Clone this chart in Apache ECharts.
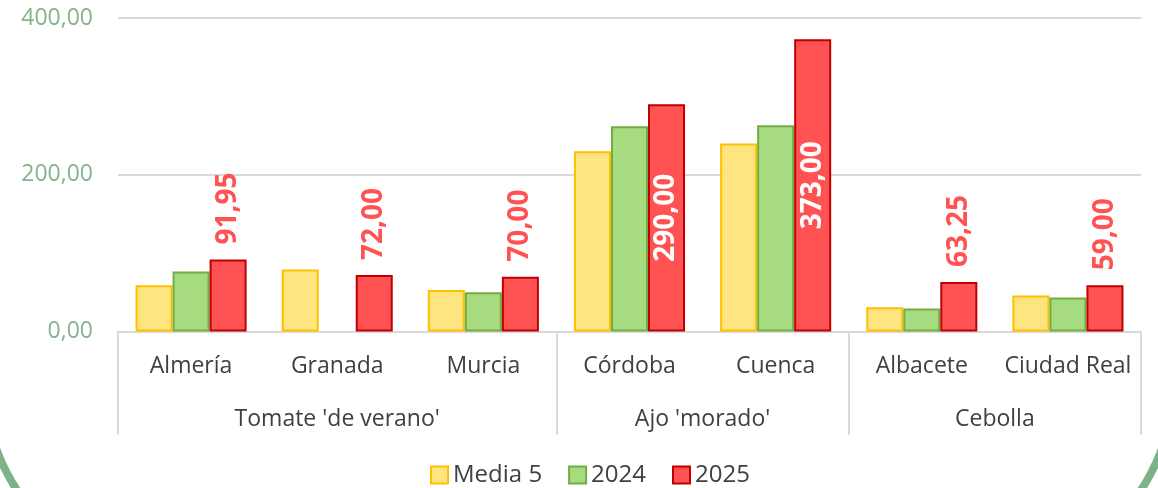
<!DOCTYPE html>
<html>
<head>
  <meta charset="UTF-8">
  <title>Precios</title>
  <script src="https://cdn.jsdelivr.net/npm/echarts@6.0.0/dist/echarts.min.js"></script>
  <style>
    html, body { margin: 0; padding: 0; background: #fff; }
    #chart { width: 1158px; height: 488px; }
  </style>
</head>
<body>
<div id="chart"></div>
<script type="text/javascript">
  // datos
  var provincias = ['Almería', 'Granada', 'Murcia', 'Córdoba', 'Cuenca', 'Albacete', 'Ciudad Real'];
  var grupos = ["Tomate 'de verano'", "Ajo 'morado'", 'Cebolla'];
  var grupoCentro = [1.5, 4, 6];
  var grupoLimites = [0, 3, 5, 7];
  var media5 = [59, 79, 53, 230, 240, 31, 46];
  var v2024 = [76.5, null, 50, 262, 263, 29.5, 43.5];
  var v2025 = [91.95, 72.00, 70.00, 290.00, 373.00, 63.25, 59.00];
  var yTicks = [0, 200, 400];

  var FONT = "'Open Sans', 'Noto Sans', sans-serif";

  function fmt(v) {
    return v.toFixed(2).replace('.', ',');
  }

  // las barras altas llevan la etiqueta dentro, en blanco
  var datos2025 = v2025.map(function (v) {
    if (v > 200) {
      return { value: v, label: { position: 'inside', align: 'center', color: '#ffffff' } };
    }
    return v;
  });

  var chart = echarts.init(document.getElementById('chart'));
  chart.setOption({
    animation: false,
    textStyle: { fontFamily: FONT },
    grid: { left: 118, right: 17, top: 18, bottom: 156.5, containLabel: false },
    graphic: [{
      type: 'rect',
      silent: true,
      z: -10,
      shape: { x: -16, y: -800, width: 1190, height: 1380, r: 200 },
      style: { fill: 'none', stroke: '#7db28a', lineWidth: 8 }
    }],
    legend: {
      top: 458,
      left: 425,
      icon: 'rect',
      itemWidth: 17,
      itemHeight: 17,
      itemGap: 26,
      textStyle: { fontSize: 24, color: '#404040', fontFamily: FONT },
      data: ['Media 5', '2024', '2025']
    },
    xAxis: [{
      type: 'category',
      data: provincias,
      position: 'bottom',
      axisLine: { lineStyle: { color: '#d9d9d9', width: 2 } },
      axisTick: { show: false },
      axisLabel: { interval: 0, fontSize: 23, color: '#404040', margin: 23, fontFamily: FONT },
      splitLine: { show: false }
    }, {
      type: 'value',
      min: 0,
      max: 7,
      position: 'bottom',
      axisLine: { show: false },
      axisTick: {
        show: true,
        customValues: grupoLimites,
        length: 103,
        lineStyle: { color: '#d9d9d9', width: 2 }
      },
      axisLabel: {
        customValues: grupoCentro,
        fontSize: 23,
        color: '#404040',
        margin: 76,
        fontFamily: FONT,
        formatter: function (v) {
          var i = grupoCentro.indexOf(v);
          return i >= 0 ? grupos[i] : '';
        }
      },
      splitLine: { show: false }
    }],
    yAxis: {
      type: 'value',
      min: yTicks[0],
      max: yTicks[yTicks.length - 1],
      interval: 200,
      axisLine: { show: false },
      axisTick: { show: false },
      axisLabel: {
        fontSize: 23,
        color: '#84b38e',
        margin: 25,
        fontFamily: FONT,
        formatter: function (v) { return fmt(v); }
      },
      splitLine: { lineStyle: { color: '#d9d9d9', width: 2 } }
    },
    series: [{
      name: 'Media 5',
      type: 'bar',
      data: media5,
      barGap: '0%',
      barCategoryGap: '24%',
      itemStyle: { color: '#ffe57f', borderColor: '#ffc000', borderWidth: 2 }
    }, {
      name: '2024',
      type: 'bar',
      data: v2024,
      barGap: '0%',
      barCategoryGap: '24%',
      itemStyle: { color: '#a6db80', borderColor: '#70ad47', borderWidth: 2 }
    }, {
      name: '2025',
      type: 'bar',
      data: datos2025,
      barGap: '0%',
      barCategoryGap: '24%',
      itemStyle: { color: '#ff5353', borderColor: '#c00000', borderWidth: 2 },
      label: {
        show: true,
        position: 'top',
        rotate: 90,
        distance: 15,
        align: 'left',
        verticalAlign: 'middle',
        fontSize: 28,
        fontWeight: 'bold',
        color: '#ff5353',
        fontFamily: FONT,
        formatter: function (p) { return fmt(p.value); }
      }
    }]
  });
</script>
</body>
</html>
